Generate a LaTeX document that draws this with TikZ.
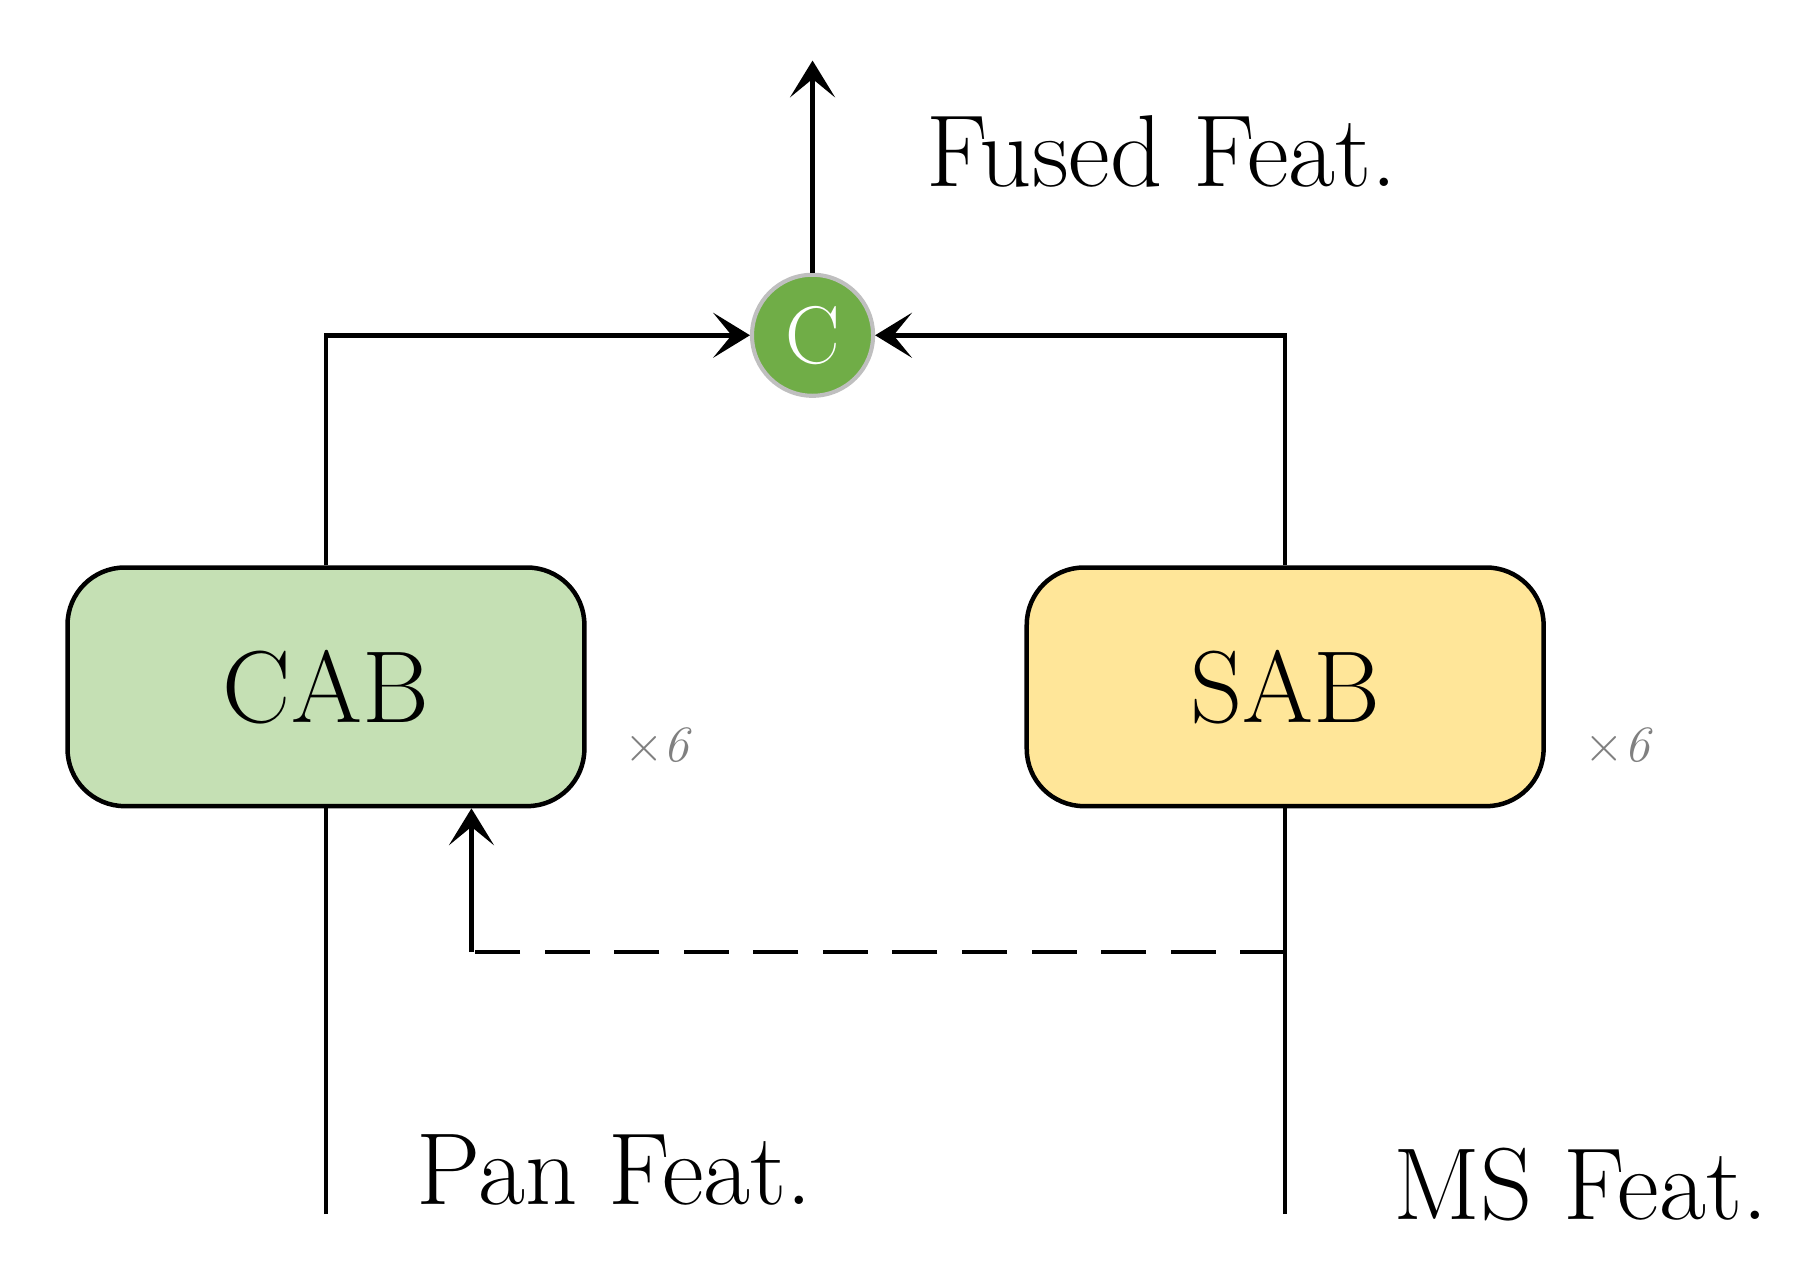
\documentclass[tikz,border=0pt]{standalone}
\usetikzlibrary{arrows.meta}
\begin{document}
\begin{tikzpicture}[x=0.02cm,y=-0.02cm,
  ln/.style={line width=2.2pt,black},
  tip/.style={-{Stealth[length=18pt,width=22pt,inset=9pt]}},
  blk/.style={draw,line width=2.2pt,rounded corners=28pt,minimum width=444*0.02cm,minimum height=205*0.02cm,font=\fontsize{50}{60}\selectfont},
  lab/.style={font=\fontsize{50}{60}\selectfont},
  times/.style={text=gray,font=\fontsize{42}{50}\selectfont}]
\useasboundingbox (0,0) rectangle (1560,1096);
\definecolor{cg}{HTML}{C5E0B4}\definecolor{cy}{HTML}{FFE699}\definecolor{cc}{HTML}{70AD47}
\node[blk,fill=cg] (cab) at (280,590) {CAB};
\node[blk,fill=cy] (sab) at (1104,590) {SAB};
\node[circle,fill=cc,draw=black!25,line width=2pt,minimum size=104*0.02cm,inner sep=0,text=white,font=\fontsize{40}{48}\selectfont] (c) at (698,288) {C};
\node[times] (x1) at (567,642) {$\times\mathit{6}$};
\node[times] (x2) at (1392,642) {$\times\mathit{6}$};
\node[lab] (fused) at (998,130) {Fused Feat.};
\node[lab] (pan) at (528,1005) {Pan Feat.};
\node[lab] (ms) at (1358,1018) {MS Feat.};
\coordinate (top) at (698,52);
\coordinate (pb) at (280,1043);
\coordinate (mb) at (1104,1043);
\coordinate (dj) at (1104,818);
\coordinate (dc) at (405,818);
\draw[ln,tip] (c.north) -- (top);
\draw[ln] (pb) -- (cab.south);
\draw[ln] (mb) -- (sab.south);
\draw[ln,tip] (cab.north) |- (c.west);
\draw[ln,tip] (sab.north) |- (c.east);
\draw[ln,dashed,dash pattern=on 22pt off 12pt] (dj) -- (dc);
\draw[ln,tip] (dc) -- (dc |- cab.south);
\end{tikzpicture}
\end{document}
